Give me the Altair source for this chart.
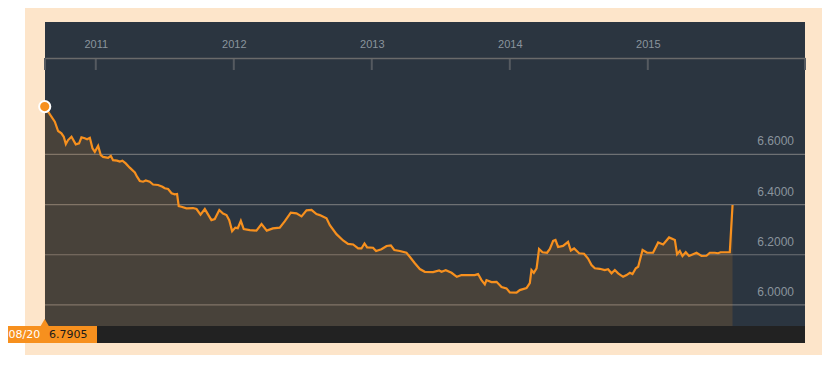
import altair as alt
import pandas as pd

# ---- data (decimal year, USD/CNY rate) ----
years = [2010.630, 2010.703, 2010.727, 2010.751, 2010.768, 2010.783, 2010.799, 2010.824, 2010.855, 2010.879,
         2010.896, 2010.920, 2010.937, 2010.957, 2010.976, 2010.993, 2011.017, 2011.036, 2011.053, 2011.089,
         2011.109, 2011.125, 2011.154, 2011.174, 2011.193, 2011.217, 2011.246, 2011.283, 2011.299, 2011.319,
         2011.343, 2011.362, 2011.391, 2011.415, 2011.451, 2011.483, 2011.500, 2011.524, 2011.549, 2011.572,
         2011.589, 2011.601, 2011.621, 2011.657, 2011.705, 2011.730, 2011.759, 2011.790, 2011.838, 2011.862,
         2011.895, 2011.922, 2011.947, 2011.967, 2011.988, 2012.011, 2012.029, 2012.051, 2012.072, 2012.116,
         2012.164, 2012.201, 2012.239, 2012.283, 2012.333, 2012.370, 2012.413, 2012.454, 2012.491, 2012.527,
         2012.563, 2012.599, 2012.623, 2012.672, 2012.696, 2012.744, 2012.792, 2012.828, 2012.865, 2012.901,
         2012.925, 2012.947, 2012.966, 2013.009, 2013.031, 2013.070, 2013.107, 2013.138, 2013.163, 2013.203,
         2013.251, 2013.275, 2013.312, 2013.348, 2013.384, 2013.444, 2013.488, 2013.505, 2013.536, 2013.578,
         2013.616, 2013.650, 2013.698, 2013.746, 2013.770, 2013.795, 2013.819, 2013.831, 2013.867, 2013.904,
         2013.940, 2013.976, 2014.000, 2014.049, 2014.072, 2014.121, 2014.145, 2014.157, 2014.174, 2014.194,
         2014.212, 2014.237, 2014.270, 2014.290, 2014.314, 2014.331, 2014.350, 2014.386, 2014.422, 2014.442,
         2014.466, 2014.502, 2014.538, 2014.567, 2014.592, 2014.616, 2014.652, 2014.688, 2014.712, 2014.737,
         2014.761, 2014.785, 2014.821, 2014.846, 2014.870, 2014.889, 2014.913, 2014.930, 2014.962, 2014.995,
         2015.038, 2015.075, 2015.111, 2015.154, 2015.196, 2015.212, 2015.232, 2015.251, 2015.275, 2015.299,
         2015.353, 2015.389, 2015.425, 2015.449, 2015.486, 2015.509, 2015.527, 2015.594, 2015.614]

rates = [6.7905, 6.730, 6.693, 6.684, 6.670, 6.641, 6.657, 6.670, 6.640, 6.644,
         6.668, 6.664, 6.660, 6.666, 6.624, 6.610, 6.634, 6.597, 6.590, 6.586,
         6.594, 6.577, 6.575, 6.571, 6.575, 6.564, 6.547, 6.528, 6.511, 6.494,
         6.491, 6.496, 6.491, 6.480, 6.478, 6.471, 6.465, 6.462, 6.445, 6.441,
         6.442, 6.394, 6.391, 6.385, 6.386, 6.382, 6.360, 6.382, 6.338, 6.342,
         6.378, 6.364, 6.358, 6.338, 6.294, 6.308, 6.306, 6.335, 6.302, 6.298,
         6.296, 6.322, 6.296, 6.305, 6.308, 6.334, 6.368, 6.365, 6.353, 6.377,
         6.379, 6.362, 6.358, 6.345, 6.318, 6.282, 6.257, 6.243, 6.241, 6.225,
         6.225, 6.245, 6.229, 6.228, 6.215, 6.222, 6.235, 6.237, 6.219, 6.215,
         6.208, 6.192, 6.166, 6.143, 6.132, 6.131, 6.137, 6.132, 6.138, 6.128,
         6.112, 6.119, 6.119, 6.119, 6.123, 6.099, 6.082, 6.099, 6.091, 6.092,
         6.071, 6.066, 6.050, 6.049, 6.059, 6.067, 6.087, 6.139, 6.128, 6.146,
         6.223, 6.210, 6.208, 6.223, 6.255, 6.259, 6.231, 6.235, 6.251, 6.217,
         6.225, 6.206, 6.204, 6.185, 6.159, 6.146, 6.144, 6.139, 6.142, 6.126,
         6.139, 6.126, 6.112, 6.119, 6.128, 6.123, 6.146, 6.152, 6.219, 6.208,
         6.208, 6.249, 6.241, 6.269, 6.259, 6.202, 6.215, 6.195, 6.210, 6.195,
         6.208, 6.195, 6.196, 6.208, 6.208, 6.206, 6.210, 6.210, 6.398]

year_ticks = [2011, 2012, 2013, 2014, 2015]
rate_ticks = [6.0, 6.2, 6.4, 6.6]
start_date_label = "08/20"
start_value_label = "6.7905"

X_DOMAIN = [2010.632, 2016.139]
Y_DOMAIN = [5.916, 6.984]

# ---- styling ----
W, H = 760, 268
ORANGE = "#f7901e"
FRAME = "#fde5ca"
PANEL = "#2b3540"
BAND = "#222222"
GRID = "#6e7174"
LABEL = "#8a949d"

df = pd.DataFrame({"t": years, "v": rates})
first = df.iloc[[0]]
one = pd.DataFrame({"k": [0]})

xscale = alt.Scale(domain=X_DOMAIN, nice=False, zero=False)
yscale = alt.Scale(domain=Y_DOMAIN, nice=False, zero=False)
xaxis = alt.Axis(orient="top", values=year_ticks, format="d", ticks=False, grid=False,
                 domainColor="#6a6a6a", domainWidth=1.5, labelColor=LABEL,
                 labelFont="Liberation Sans", labelFontSize=11, labelPadding=9,
                 title=None, zindex=1)
X = alt.X("t:Q", scale=xscale, axis=xaxis)

# light-orange dotted frame around the panel (flat tone)
frame = alt.Chart(one).mark_rect(color=FRAME).encode(
    x=alt.value(-20), x2=alt.value(777), y=alt.value(-56), y2=alt.value(305))

panel = alt.Chart(one).mark_rect(color=PANEL).encode(
    x=alt.value(0), x2=alt.value(W), y=alt.value(-36), y2=alt.value(H))
band = alt.Chart(one).mark_rect(color=BAND).encode(
    x=alt.value(0), x2=alt.value(W), y=alt.value(H), y2=alt.value(H + 17))
box = alt.Chart(one).mark_rect(color=ORANGE).encode(
    x=alt.value(-43), x2=alt.value(52), y=alt.value(H), y2=alt.value(H + 17))
tri = alt.Chart(first).mark_point(shape="triangle-up", filled=True, fill=ORANGE,
                                   opacity=1, size=92, strokeWidth=0).encode(
    x=X, y=alt.value(H - 2.8))

grid = alt.Chart(pd.DataFrame({"v": rate_ticks})).mark_rule(color=GRID, strokeWidth=1.2).encode(
    y=alt.Y("v:Q", scale=yscale, axis=None), x=alt.value(0), x2=alt.value(W))

area = alt.Chart(df).mark_area(fill=ORANGE, fillOpacity=0.145, strokeWidth=0).encode(
    x=X, y=alt.Y("v:Q", scale=yscale, axis=None), y2=alt.datum(Y_DOMAIN[0]))
line = alt.Chart(df).mark_line(color=ORANGE, strokeWidth=2.2).encode(
    x=X, y=alt.Y("v:Q", scale=yscale, axis=None))

ticks = alt.Chart(pd.DataFrame({"t": year_ticks + X_DOMAIN})).mark_rule(
    color="#555a60", strokeWidth=2).encode(x=X, y=alt.value(0), y2=alt.value(12))

ylabels = alt.Chart(pd.DataFrame({"v": rate_ticks})).mark_text(
    align="right", baseline="middle", dy=-13, font="Liberation Sans", fontSize=12,
    color=LABEL).encode(
    y=alt.Y("v:Q", scale=yscale, axis=None), x=alt.value(749),
    text=alt.Text("v:Q", format=".4f"))

dot = alt.Chart(first).mark_point(filled=True, fill=ORANGE, stroke="white", strokeWidth=2,
                                  opacity=1, size=125).encode(
    x=X, y=alt.Y("v:Q", scale=yscale, axis=None))

t_date = alt.Chart(one).mark_text(text=start_date_label, align="left", baseline="middle",
                                  font="DejaVu Sans", fontSize=11, color="white").encode(
    x=alt.value(-36.5), y=alt.value(H + 8.5))
t_val = alt.Chart(one).mark_text(text=start_value_label, align="left", baseline="middle",
                                 font="DejaVu Sans", fontSize=11, color="#1a1a1a").encode(
    x=alt.value(4), y=alt.value(H + 8.5))

chart = alt.layer(frame, panel, band, box, tri, grid, area, line, ticks, ylabels, dot,
                  t_date, t_val).properties(
    width=W, height=H,
    padding={"left": 37, "top": 50, "right": 20, "bottom": 29},
    autosize=alt.AutoSizeParams(type="none"),
    background="white",
).configure_view(strokeWidth=0)

chart.save("out.html", embed_options={"renderer": "svg", "actions": False})
